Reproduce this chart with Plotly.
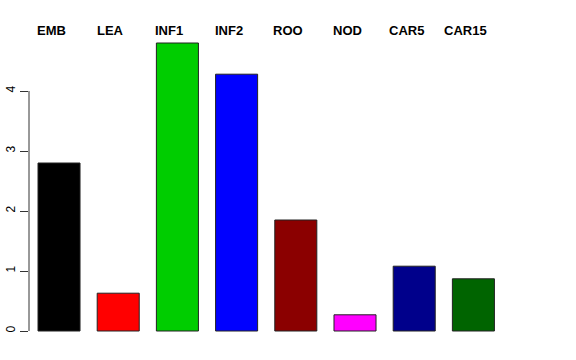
import plotly.graph_objects as go

categories = ["EMB", "LEA", "INF1", "INF2", "ROO", "NOD", "CAR5", "CAR15"]
values = [2.8, 0.63, 4.8, 4.28, 1.85, 0.27, 1.08, 0.87]
colors = ["#000000", "#FF0000", "#00CD00", "#0000FF", "#8B0000", "#FF00FF", "#00008B", "#006400"]
y_ticks = [0, 1, 2, 3, 4]

x_idx = list(range(len(categories)))

fig = go.Figure()
fig.add_trace(go.Bar(
    x=x_idx, y=values,
    marker=dict(color=colors, line=dict(color="#222222", width=1)),
    width=0.71,
    showlegend=False,
))

for i, c in enumerate(categories):
    fig.add_annotation(
        x=i, y=1, xref="x", yref="paper", yshift=1,
        text="<b>%s</b>" % c, showarrow=False, xshift=-8,
        yanchor="middle", xanchor="center",
        font=dict(family="Liberation Sans, Arial, sans-serif", size=13, color="black"),
    )

fig.add_shape(type="line", xref="paper", yref="y", x0=0, x1=0, y0=0, y1=4,
              line=dict(color="#333333", width=1))

fig.update_layout(
    width=576, height=360,
    margin=dict(l=29, r=73, t=31, b=23, autoexpand=False),
    plot_bgcolor="white", paper_bgcolor="white",
    font=dict(family="Liberation Sans, Arial, sans-serif", size=12, color="black"),
    xaxis=dict(range=[-0.507, 7.5], showticklabels=False, showgrid=False,
               zeroline=False, showline=False, ticks="", automargin=False),
    yaxis=dict(range=[-0.1, 5.0], tickvals=y_ticks, ticktext=[str(t) for t in y_ticks],
               ticks="outside", ticklen=8, tickcolor="#333333", tickwidth=1,
               tickangle=-90, showgrid=False, zeroline=False, showline=False,
               automargin=False, tickfont=dict(size=12, color="black")),
)

fig.write_html("out.html")
